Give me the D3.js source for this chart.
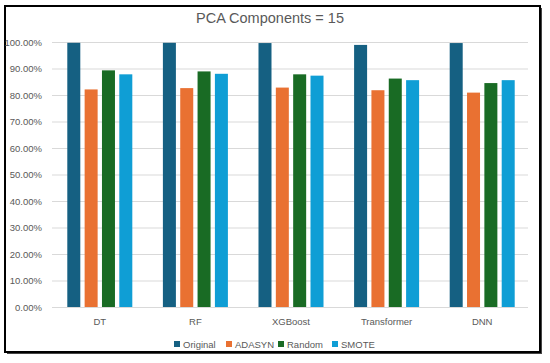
<!DOCTYPE html>
<html>
<head>
<meta charset="utf-8">
<script src="https://cdn.jsdelivr.net/npm/d3@7"></script>
<style>
  body { margin: 0; background: #fff; }
  text { font-family: "Liberation Sans", Arial, sans-serif; fill: #595959; }
</style>
</head>
<body>
<svg id="chart" width="550" height="363"></svg>
<script>
// data
var models = ["DT", "RF", "XGBoost", "Transformer", "DNN"];
var series = ["Original", "ADASYN", "Random", "SMOTE"];
var original = [0.997, 0.997, 0.996, 0.989, 0.996];
var adasyn   = [0.821, 0.826, 0.828, 0.818, 0.809];
var random   = [0.893, 0.889, 0.878, 0.862, 0.845];
var smote    = [0.878, 0.880, 0.873, 0.856, 0.856];
var yTicks = [0, 0.1, 0.2, 0.3, 0.4, 0.5, 0.6, 0.7, 0.8, 0.9, 1.0];
var colors = ["#156082", "#E97132", "#196B24", "#0F9ED5"];

var values = [original, adasyn, random, smote];
var svg = d3.select("#chart");

// frame with a little shadow
svg.append("rect").attr("x", 7).attr("y", 8).attr("width", 535).attr("height", 346).style("fill", "#444");
svg.append("rect").attr("x", 5).attr("y", 6).attr("width", 535).attr("height", 346)
  .style("fill", "#fff").style("stroke", "#000").style("stroke-width", 2);

var y = d3.scaleLinear().domain([0, 1]).range([307, 42]);
var x = d3.scaleBand().domain(models).range([52, 530]).paddingInner(0.32).paddingOuter(0.16);
var xs = d3.scaleBand().domain(series).range([0, x.bandwidth()]).paddingInner(0.25);
var color = d3.scaleOrdinal().domain(series).range(colors);

// gridlines
svg.append("g").selectAll("line").data(yTicks).enter().append("line")
  .attr("x1", 52).attr("x2", 528)
  .attr("y1", function(d) { return y(d) + 0.5; })
  .attr("y2", function(d) { return y(d) + 0.5; })
  .style("stroke", "#d9d9d9").style("stroke-width", 1);

// y labels
svg.append("g").selectAll("text").data(yTicks).enter().append("text")
  .attr("x", 42).attr("y", function(d) { return y(d) + 3.5; })
  .attr("text-anchor", "end").style("font-size", "9.5px")
  .text(d3.format(".2%"));

// bars
var groups = svg.append("g").selectAll("g").data(models).enter().append("g")
  .attr("transform", function(d) { return "translate(" + x(d) + ",0)"; });

groups.selectAll("rect")
  .data(function(d, i) { return series.map(function(s, j) { return {s: s, v: values[j][i]}; }); })
  .enter().append("rect")
  .attr("x", function(d) { return xs(d.s); })
  .attr("width", xs.bandwidth())
  .attr("y", function(d) { return y(d.v); })
  .attr("height", function(d) { return y(0) - y(d.v); })
  .style("fill", function(d) { return color(d.s); });

// x labels
svg.append("g").selectAll("text").data(models).enter().append("text")
  .attr("x", function(d) { return x(d) + x.bandwidth() / 2; })
  .attr("y", 325).attr("text-anchor", "middle").style("font-size", "9.5px")
  .text(function(d) { return d; });

// title
svg.append("text").attr("x", 270).attr("y", 23).attr("text-anchor", "middle")
  .style("font-size", "14.5px").text("PCA Components = 15");

// legend
var legendX = [174, 226, 278, 332];
var legend = svg.append("g").selectAll("g").data(series).enter().append("g")
  .attr("transform", function(d, i) { return "translate(" + legendX[i] + ",341)"; });
legend.append("rect").attr("width", 6).attr("height", 6)
  .style("fill", function(d) { return color(d); });
legend.append("text").attr("x", 9).attr("y", 6.5).style("font-size", "9.5px")
  .text(function(d) { return d; });
</script>
</body>
</html>
